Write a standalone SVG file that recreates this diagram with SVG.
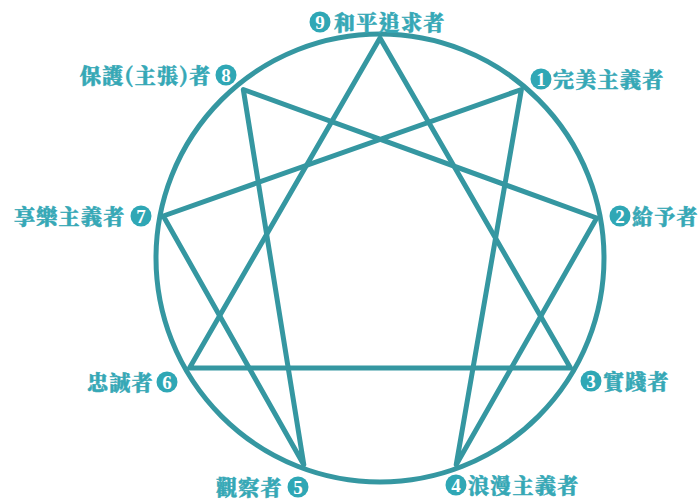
<svg xmlns="http://www.w3.org/2000/svg" width="700" height="500" viewBox="0 0 700 500">
<style>
.ln{stroke:#3597a1;stroke-width:5;fill:none;stroke-linecap:round;stroke-linejoin:round}
.lb{font-family:"Noto Serif CJK TC","Noto Sans CJK TC",serif;font-size:21px;font-weight:900;fill:#36a8b6;stroke:#36a8b6;stroke-width:0.5px;letter-spacing:1.3px}
.bd{fill:#2fa7b5}
.nm{font-family:"Liberation Serif",serif;font-size:19px;font-weight:700;fill:#fff;text-anchor:middle}
</style>
<rect width="700" height="500" fill="#fff"/>
<g id="connectors">
<circle class="ln" cx="380" cy="258" r="224"/>
<polygon class="ln" points="380,38 570.5,368 189.5,368"/>
<polygon class="ln" points="521.4,89.5 456.2,464.7 596.7,218 243.3,89.5 303.8,464.7 163.3,216"/>
</g>
<g id="n9"><circle class="bd" cx="320" cy="22" r="10.5"/><text class="nm" x="320" y="28.5">9</text><text class="lb" x="334" y="30">和平追求者</text></g>
<g id="n1"><circle class="bd" cx="541" cy="79" r="10.5"/><text class="nm" x="541" y="85.5">1</text><text class="lb" x="553" y="87">完美主義者</text></g>
<g id="n2"><circle class="bd" cx="620" cy="216" r="10.5"/><text class="nm" x="620" y="222.5">2</text><text class="lb" x="632" y="224">給予者</text></g>
<g id="n3"><circle class="bd" cx="591" cy="381" r="10.5"/><text class="nm" x="591" y="387.5">3</text><text class="lb" x="603" y="389">實踐者</text></g>
<g id="n4"><circle class="bd" cx="456" cy="485" r="10.5"/><text class="nm" x="456" y="491.5">4</text><text class="lb" x="468" y="493">浪漫主義者</text></g>
<g id="n5"><circle class="bd" cx="298" cy="487" r="10.5"/><text class="nm" x="298" y="493.5">5</text><text class="lb" x="216" y="495">觀察者</text></g>
<g id="n6"><circle class="bd" cx="167" cy="382" r="10.5"/><text class="nm" x="167" y="388.5">6</text><text class="lb" x="87" y="390">忠誠者</text></g>
<g id="n7"><circle class="bd" cx="141" cy="216" r="10.5"/><text class="nm" x="141" y="222.5">7</text><text class="lb" x="14" y="224">享樂主義者</text></g>
<g id="n8"><circle class="bd" cx="226" cy="75" r="10.5"/><text class="nm" x="226" y="81.5">8</text><text class="lb" x="80" y="83" letter-spacing="0.8">保護(主張)者</text></g>
</svg>
